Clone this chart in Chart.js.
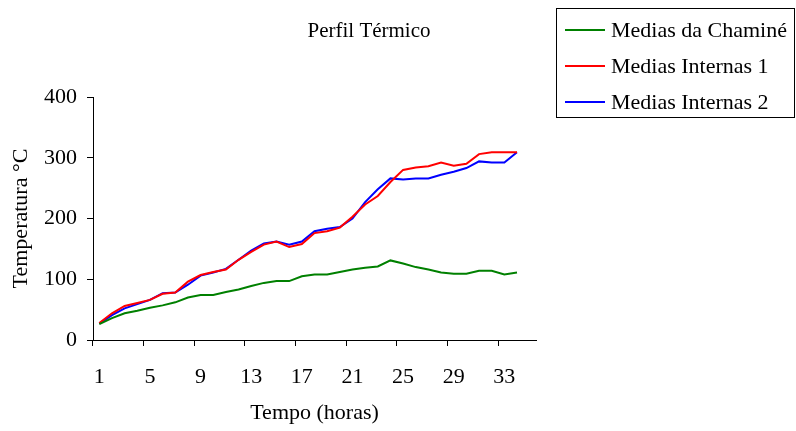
<!DOCTYPE html>
<html>
<head>
<meta charset="utf-8">
<script src="https://cdn.jsdelivr.net/npm/chart.js@4/dist/chart.umd.min.js"></script>
<style>
html,body{margin:0;padding:0;background:#fff;}
#wrap{width:796px;height:431px;}
canvas{display:block;}
</style>
</head>
<body>
<div id="wrap"><canvas id="c" width="796" height="431"></canvas></div>
<script>
// ---- data ----
const chartTitle = 'Perfil Térmico';
const xTitle = 'Tempo (horas)';
const yTitle = 'Temperatura °C';
const hours = ['1','2','3','4','5','6','7','8','9','10','11','12','13','14','15','16','17','18','19','20','21','22','23','24','25','26','27','28','29','30','31','32','33','34','35'];
const seriesNames = ['Medias da Chaminé', 'Medias Internas 1', 'Medias Internas 2'];
const chamine = [26, 36, 44, 48, 53, 57, 62, 70, 74, 74, 79, 83, 89, 94, 97, 97, 105, 108, 108, 112, 116, 119, 121, 131, 126, 120, 116, 111, 109, 109, 114, 114, 108, 111, null];
const internas1 = [28, 44, 56, 61, 66, 76, 78, 96, 107, 112, 116, 132, 145, 157, 162, 153, 158, 176, 179, 185, 203, 223, 237, 260, 280, 284, 286, 292, 287, 290, 306, 309, 309, 309, null];
const internas2 = [27, 41, 52, 59, 66, 77, 78, 91, 106, 111, 117, 132, 147, 159, 162, 157, 162, 179, 183, 186, 200, 227, 248, 266, 264, 266, 266, 272, 277, 283, 294, 292, 292, 309, null];
const yTicks = [0, 100, 200, 300, 400];

const FONT = '"Liberation Serif", "Times New Roman", serif';

const decorPlugin = {
  id: 'decor',
  afterDraw(chart) {
    const ctx = chart.ctx;
    ctx.save();
    ctx.fillStyle = '#000';
    ctx.font = '21px ' + FONT;
    ctx.textAlign = 'center';
    ctx.textBaseline = 'alphabetic';
    ctx.fillText(chartTitle, 369, 37);
    // legend
    ctx.strokeStyle = '#000';
    ctx.lineWidth = 1;
    ctx.strokeRect(556.5, 8.5, 238, 109);
    ctx.font = '22px ' + FONT;
    ctx.textAlign = 'left';
    ctx.textBaseline = 'middle';
    chart.data.datasets.forEach((ds, i) => {
      const y = 30 + i * 36;
      ctx.strokeStyle = ds.borderColor;
      ctx.lineWidth = 2;
      ctx.beginPath();
      ctx.moveTo(565, y);
      ctx.lineTo(605, y);
      ctx.stroke();
      ctx.fillStyle = '#000';
      ctx.fillText(ds.label, 611, y + 1);
    });
    ctx.restore();
  }
};

new Chart(document.getElementById('c'), {
  type: 'line',
  data: {
    labels: hours,
    datasets: [
      { label: seriesNames[0], data: chamine, borderColor: '#008000', backgroundColor: '#008000', borderWidth: 2, pointRadius: 0, tension: 0, fill: false },
      { label: seriesNames[1], data: internas1, borderColor: '#FF0000', backgroundColor: '#FF0000', borderWidth: 2, pointRadius: 0, tension: 0, fill: false },
      { label: seriesNames[2], data: internas2, borderColor: '#0000FF', backgroundColor: '#0000FF', borderWidth: 2, pointRadius: 0, tension: 0, fill: false }
    ]
  },
  options: {
    responsive: false,
    animation: false,
    devicePixelRatio: 1,
    layout: { padding: { top: 97, right: 260, bottom: 0, left: 0 } },
    plugins: {
      legend: { display: false },
      title: { display: false },
      tooltip: { enabled: false }
    },
    scales: {
      x: {
        type: 'category',
        offset: true,
        grid: {
          offset: true,
          drawOnChartArea: false,
          drawTicks: true,
          tickLength: 6,
          lineWidth: 1,
          color: (c) => (c.index % 4 === 0 ? '#000' : 'rgba(0,0,0,0)')
        },
        border: { display: true, color: '#000', width: 1 },
        ticks: {
          autoSkip: false,
          maxRotation: 0,
          minRotation: 0,
          padding: 18,
          color: '#000',
          font: { family: FONT, size: 22 },
          callback: function (v, i) { return i % 4 === 0 ? this.getLabelForValue(v) : ''; }
        },
        title: {
          display: true,
          text: xTitle,
          color: '#000',
          font: { family: FONT, size: 22 },
          padding: { top: 0, bottom: 5 }
        },
        afterFit: (s) => { s.height = 91; }
      },
      y: {
        min: 0,
        max: 400,
        afterBuildTicks: (s) => { s.ticks = yTicks.map(v => ({ value: v })); },
        grid: {
          drawOnChartArea: false,
          drawTicks: true,
          tickLength: 6,
          color: '#000'
        },
        border: { display: true, color: '#000', width: 1 },
        ticks: {
          padding: 10,
          color: '#000',
          font: { family: FONT, size: 22 }
        },
        title: {
          display: true,
          text: yTitle,
          color: '#000',
          font: { family: FONT, size: 22 },
          padding: { top: 8, bottom: 0 }
        },
        afterFit: (s) => { s.width = 93; }
      }
    }
  },
  plugins: [decorPlugin]
});
</script>
</body>
</html>
